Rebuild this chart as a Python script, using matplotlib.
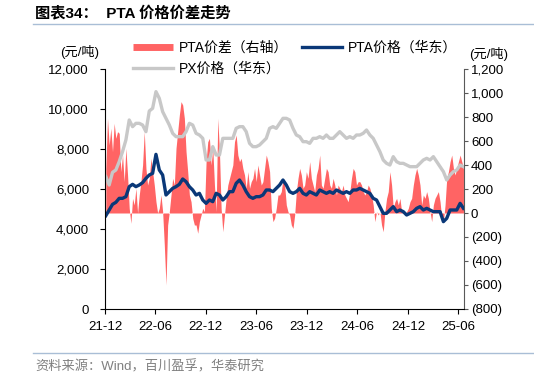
import matplotlib
matplotlib.use("Agg")
import matplotlib.pyplot as plt
import matplotlib.dates as mdates
from matplotlib.lines import Line2D
from matplotlib.ticker import FuncFormatter, MultipleLocator
import pandas as pd

plt.rcParams["font.family"] = ["Liberation Sans", "Noto Sans CJK SC"]
plt.rcParams["axes.unicode_minus"] = False

# PTA 价差 (右轴), evenly spaced samples, 元/吨
spread = [372, 789, 567, 706, 511, 747, 622, 678, 664, 344, 483, 261, 539, 317, 39, -86, 122, 67,
          206, 0, 150, 261, 400, 678, 372, 233, 289, 456, 344, 233, 94, 0, 39, 150, 11, -267, -600, -100,
          11, 150, 289, 233, 539, 678, 817, 928, 900, 789, 511, 344, 150, 94, -44, -100,
          -100, -169, -72, -17, 39, 11, 428, 594, 622, 400, 539, 233, 11, 789, 511, 39, -156, -17,
          122, 233, 289, 344, 400, 594, 650, 483, 428, 456, 372, 317, 206, 344, 206, 261, 289, 372,
          261, 400, 317, 233, 261, 372, 483, 428, 344, 39, -72, -44, 39, 150, 150, 178, 289, 233,
          67, 11, -17, -100, -128, -17, 178, 289, 372, 317, 206, 233, 344, 289, 428, 289, 233, 178,
          317, 372, 483, 233, 206, 289, 372, 344, 233, 206, 289, 233, 150, 233, 206, 178, 233, 150,
          122, 94, 178, 289, 372, 344, 233, 261, 261, 233, 178, 150, 178, 233, 206, 150, 67, -72,
          11, -17, 11, -100, -156, 11, 122, 178, 344, 233, 39, 94, 122, 67, 122, 11, 11, -17,
          11, 39, 94, 122, 233, 317, 372, 317, 233, 67, 150, 122, 178, 122, 11, -72, 67, 122,
          150, 178, 94, -44, -72, 67, 289, 344, 428, 483, 372, 317, 372, 428, 483, 428, 372]

# PTA 价格 (华东)
pta = [4667, 4950, 5233, 5333, 5533, 5533, 5617, 6117, 6233, 6117, 6200, 6317, 6533, 6700, 6783,
       7733, 6950, 6700, 5700, 5867, 6033, 6117, 6233, 6500, 6367, 6117, 5950,
       5700, 5783, 5450, 5283, 5450, 5367, 5783, 5700, 5450, 5617, 5867, 5867, 6283, 6450, 6200,
       5867, 5617, 5533, 5617, 5617, 5700, 5950, 5950, 5867, 6033, 6200, 6450,
       6200, 5867, 5783, 5867, 6033, 5783, 5700, 5867, 5783, 5700, 5950, 5867, 5783, 5867, 5783,
       5950, 5867, 5783, 5867, 5783, 5950, 5950, 6033, 5950, 5867, 5783, 5533,
       5450, 5117, 4783, 4783, 4950, 5117, 4867, 4950, 4867, 4700, 4783, 4867, 5033, 5117, 4950,
       5033, 4950, 4867, 4867, 4867, 4367, 4533, 4950, 4950, 4950, 5283, 5033]

# PX 价格 (华东)
px = [6617, 6200, 6833, 6950, 7367, 7867, 8450, 9450, 9117, 9283, 9283, 9200, 8867, 9900, 10033,
      10867, 10533, 9867, 9533, 9200, 8783, 8617, 8617, 8617, 8867, 9283, 9200,
      8783, 8700, 8533, 7450, 7450, 8117, 7700, 7700, 8533, 8533, 8533, 8533, 9033, 9117, 9117,
      8867, 8283, 8117, 8117, 8200, 8367, 8533, 9033, 9117, 9033, 9283, 9533,
      9533, 9450, 9033, 8700, 8617, 8367, 8367, 8283, 8533, 8533, 8617, 8533, 8700, 8533, 8533,
      8700, 8867, 8700, 8533, 8617, 8533, 8700, 8700, 8783, 8950, 8700, 8533,
      8200, 7867, 7450, 7283, 7200, 7617, 7367, 7283, 7283, 7200, 7117, 7117, 7117, 7283, 7450,
      7533, 7450, 7617, 7367, 7117, 6867, 6450, 6700, 6867, 6950, 7200, 7117]

start, end = "2021-12-04", "2025-06-20"
d_spread = pd.date_range(start, end, periods=len(spread))
d_price = pd.date_range(start, end, periods=len(pta))

red = "#FF6464"
blue = "#0A3878"
grey = "#C8C8C8"

fig = plt.figure(figsize=(5.34, 3.78), dpi=100)
ax1 = fig.add_axes([105 / 534, 1 - 309 / 378, 359 / 534, 240 / 378])
ax2 = ax1.twinx()

ax2.fill_between(d_spread, spread, 0, color=red, lw=0)
ax1.plot(d_price, px, color=grey, lw=2.4)
ax1.plot(d_price, pta, color=blue, lw=2.4)
ax1.set_zorder(ax2.get_zorder() + 1)
ax1.patch.set_visible(False)

ax1.set_ylim(0, 12000)
ax2.set_ylim(-800, 1200)
ax1.set_xlim(pd.Timestamp("2021-12-01"), pd.Timestamp("2025-06-22"))
ax1.yaxis.set_major_locator(MultipleLocator(2000))
ax2.yaxis.set_major_locator(MultipleLocator(200))
ax1.yaxis.set_major_formatter(FuncFormatter(lambda v, p: f"{v:,.0f}"))
ax2.yaxis.set_major_formatter(FuncFormatter(lambda v, p: f"({-v:,.0f})" if v < 0 else f"{v:,.0f}"))
ax1.xaxis.set_major_locator(mdates.MonthLocator(bymonth=[6, 12]))
ax1.xaxis.set_major_formatter(mdates.DateFormatter("%y-%m"))

for a in (ax1, ax2):
    a.spines["top"].set_visible(False)
ax1.spines["right"].set_visible(False)
ax2.spines["left"].set_visible(False)
ax2.spines["bottom"].set_visible(False)
ax2.spines["right"].set_color("#595959")
ax1.tick_params(axis="y", labelsize=9.5, length=3.5, width=0.8, pad=8)
ax1.tick_params(axis="x", labelsize=9.5, length=3.5, width=0.8, pad=5)
ax2.tick_params(axis="y", labelsize=9.5, length=3, width=0.8, pad=2,
                colors="#595959", labelcolor="black")

fig.text(80 / 534, 1 - 52 / 378, "(元/吨)", fontsize=9.5, ha="center", va="center")
fig.text(489 / 534, 1 - 54 / 378, "(元/吨)", fontsize=9.5, ha="center", va="center")

handles = [Line2D([], [], color=red, lw=5, solid_capstyle="butt"),
           Line2D([], [], color=grey, lw=2.4),
           Line2D([], [], color=blue, lw=2.4)]
labels = ["PTA价差（右轴）", "PX价格（华东）", "PTA价格（华东）"]
fig.legend(handles, labels, ncol=2, loc="upper left", bbox_to_anchor=(133 / 534, 1 - 41 / 378),
           frameon=False, fontsize=10, handlelength=2.9, handletextpad=0.4, columnspacing=1.0,
           labelspacing=0.5, borderpad=0, borderaxespad=0)

fig.text(35 / 534, 1 - 13 / 378, "图表34：  PTA 价格价差走势", fontsize=11, fontweight="bold",
         ha="left", va="center")
fig.add_artist(Line2D([33 / 534, 1], [1 - 24 / 378, 1 - 24 / 378], color="#A9BED6", lw=1))
fig.add_artist(Line2D([33 / 534, 1], [1 - 353 / 378, 1 - 353 / 378], color="#A9BED6", lw=1))
fig.text(35 / 534, 1 - 367 / 378, "资料来源：Wind，百川盈孚，华泰研究", fontsize=9.5,
         color="#808080", ha="left", va="center")

fig.savefig("out.png", dpi=100)
